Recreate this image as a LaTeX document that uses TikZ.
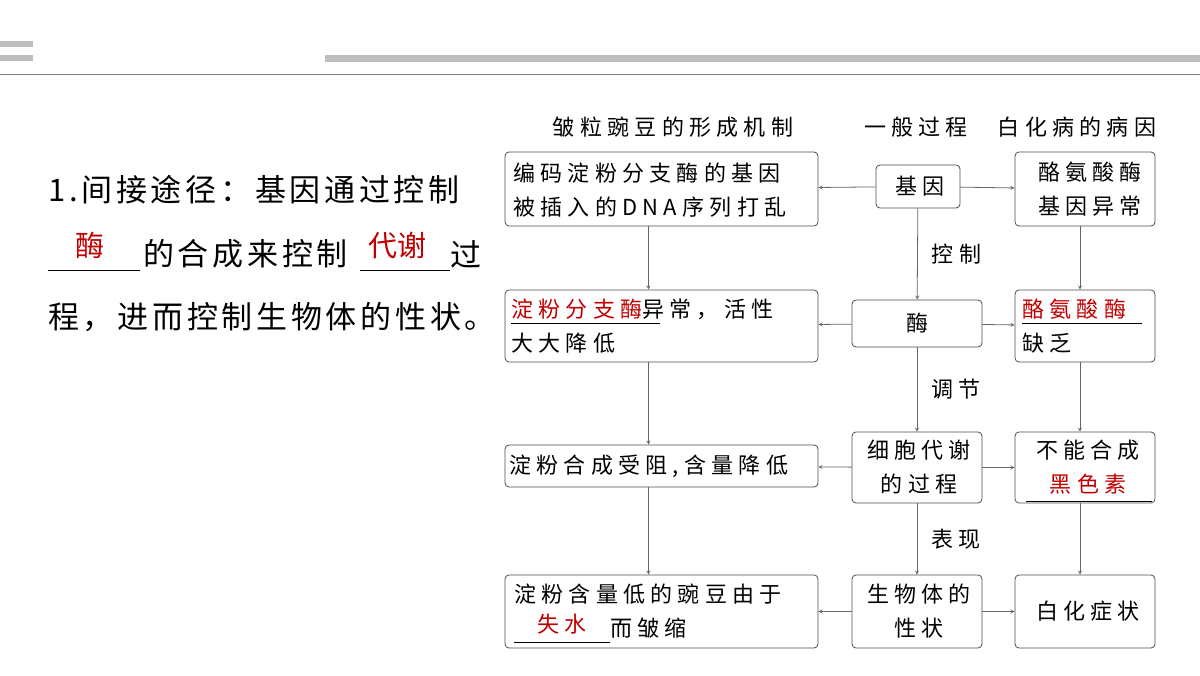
\documentclass[tikz,border=0pt]{standalone}
\usepackage{fontspec}
\setmainfont{Noto Sans CJK SC}
\newfontfamily\boxfont[LetterSpace=24]{Noto Sans CJK SC}
\newfontfamily\bodyfont[LetterSpace=12]{Noto Sans CJK SC}
\usepackage{tikz}
\definecolor{ansred}{RGB}{192,0,0}
\definecolor{bargray}{RGB}{190,190,190}
\tikzset{
  box/.style={draw=black!70, rounded corners=4pt, thick, inner sep=0pt},
  arr/.style={->, draw=black!60, thick, >=stealth},
  txt/.style={font=\boxfont\fontsize{22}{34}\selectfont, align=left, inner sep=0pt},
  body/.style={anchor=west, inner sep=0pt, font=\bodyfont\fontsize{31}{36}\selectfont},
}
\begin{document}
\begin{tikzpicture}[x=1pt,y=-1pt]
\useasboundingbox (0,0) rectangle (1200,676);
%%上部の飾り
\fill [bargray] (0,41) rectangle (33,47); \fill [bargray] (0,55) rectangle (33,61);
\fill [bargray] (325,55) rectangle (1200,62);
\draw [black!50] (0,74) -- (1200,74);

%%左の文章
\node [body] (l1) at (48,190) {1.间接途径：基因通过控制};
\node [body] (l2) at (143,254) {的合成来控制};
\node [body] (l2b) at (450,254) {过};
\node [body] (l3) at (48,317) {程，进而控制生物体的性状。};
\draw (48,270) -- (140,270); \draw (360,270) -- (450,270);
\node [text=ansred, font=\fontsize{29}{32}\selectfont] (a1) at (90,245) {酶};
\node [text=ansred, font=\fontsize{29}{32}\selectfont] (a2) at (397,245) {代谢};

%%見出し
\node [txt] (h1) at (673,127) {皱粒豌豆的形成机制};
\node [txt] (h2) at (916,127) {一般过程};
\node [txt] (h3) at (1077,127) {白化病的病因};

%%左列
\node [box, minimum width=313pt, minimum height=74pt] (b1) at (661.5,189) {};
\node [txt, anchor=west] at (513,190) {编码淀粉分支酶的基因\\被插入的DNA序列打乱};
\node [box, minimum width=313pt, minimum height=72pt] (b2) at (661.5,326) {};
\node [txt, anchor=west] at (511,326) {\textcolor{ansred}{淀粉分支酶}异常，活性\\大大降低};
\draw (511,323) -- (660,323);
\node [box, minimum width=313pt, minimum height=42pt] (b3) at (661.5,466) {};
\node [txt, anchor=west] at (509,466) {淀粉合成受阻,含量降低};
\node [box, minimum width=313pt, minimum height=73pt] (b4) at (661.5,611.5) {};
\node [txt, anchor=west] at (514,611) {淀粉含量低的豌豆由于\\\hspace{96pt}而皱缩};
\draw (514,642) -- (610,642);
\node [txt, text=ansred] at (562,624) {失水};

%%中央列
\node [box, minimum width=84pt, minimum height=43pt] (m1) at (918,186.5) {};
\node [txt] at (920,186.5) {基因};
\node [box, minimum width=130pt, minimum height=47pt] (m2) at (917,323.5) {};
\node [txt] at (917,323.5) {酶};
\node [box, minimum width=130pt, minimum height=71pt] (m3) at (917,467.5) {};
\node [txt, align=center] at (919,467.5) {细胞代谢\\的过程};
\node [box, minimum width=130pt, minimum height=73pt] (m4) at (917,611.5) {};
\node [txt, align=center] at (919,611.5) {生物体的\\性状};

%%右列
\node [box, minimum width=140pt, minimum height=74pt] (r1) at (1085,189) {};
\node [txt, align=center] at (1090,189) {酪氨酸酶\\基因异常};
\node [box, minimum width=140pt, minimum height=72pt] (r2) at (1085,326) {};
\node [txt, anchor=west] at (1022,326) {\textcolor{ansred}{酪氨酸酶}\\缺乏};
\draw (1022,323) -- (1142,323);
\node [box, minimum width=140pt, minimum height=71pt] (r3) at (1085,467.5) {};
\node [txt, align=center] at (1088,467.5) {不能合成\\\textcolor{ansred}{黑色素}};
\draw (1026,501) -- (1152,501);
\node [box, minimum width=140pt, minimum height=73pt] (r4) at (1085,611.5) {};
\node [txt] at (1088,611.5) {白化症状};

%%矢印
\draw [arr] (m1) -- (m2) node [midway, right=14pt, txt] {控制};
\draw [arr] (m2) -- (m3) node [midway, right=14pt, txt] {调节};
\draw [arr] (m3) -- (m4) node [midway, right=14pt, txt] {表现};
\foreach \m/\l/\r in {m1/b1/r1, m2/b2/r2, m3/b3/r3, m4/b4/r4}{
  \draw [arr] (\m) -- (\l);
  \draw [arr] (\m) -- (\r);
}
\foreach \a/\b in {b1/b2, b2/b3, b3/b4}
  \draw [arr] ([xshift=-13pt]\a.south) -- ([xshift=-13pt]\b.north);
\foreach \a/\b in {r1/r2, r2/r3, r3/r4}
  \draw [arr] ([xshift=-5pt]\a.south) -- ([xshift=-5pt]\b.north);
\end{tikzpicture}
\end{document}
